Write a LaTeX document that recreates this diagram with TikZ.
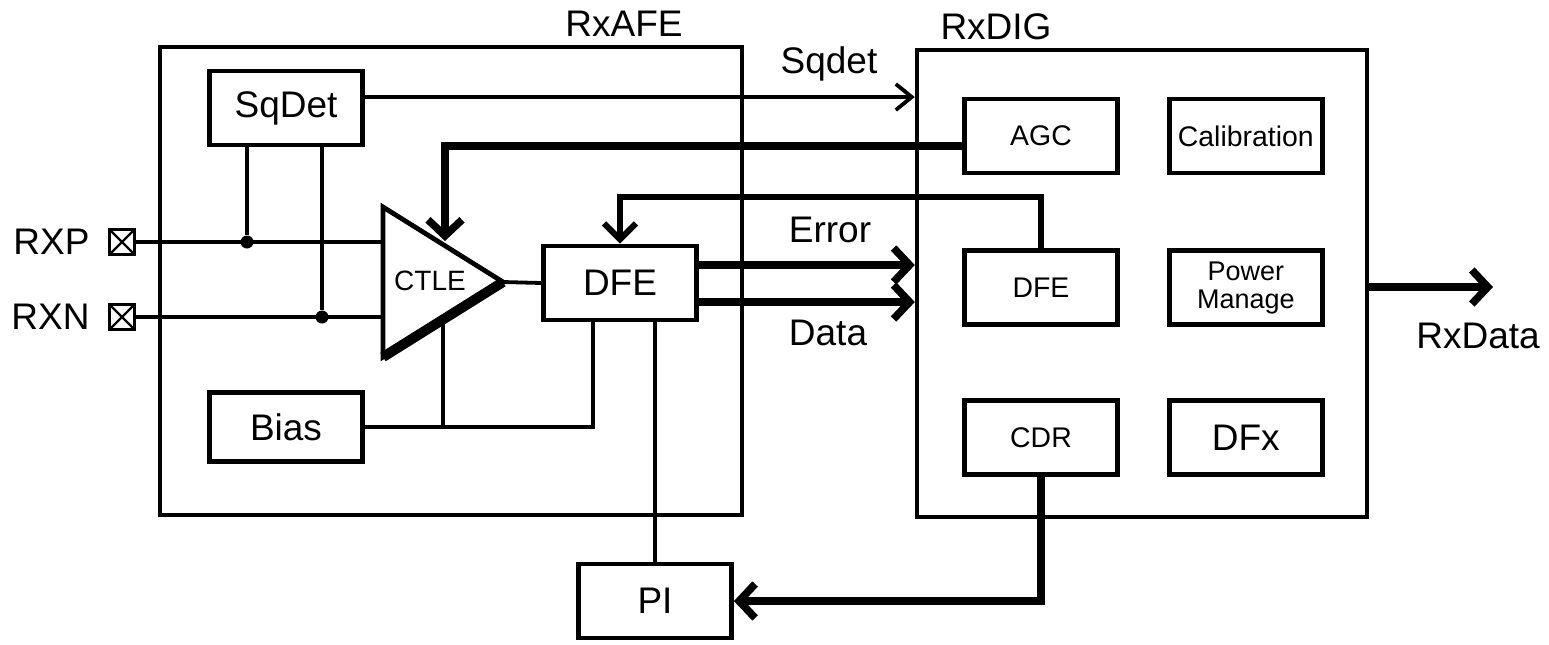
\documentclass[tikz,border=0pt]{standalone}
\usepackage{fontspec}
\setmainfont{Liberation Sans}
\usetikzlibrary{arrows.meta, positioning}

\begin{document}
\begin{tikzpicture}[x=0.5pt, y=-0.5pt,
  blk/.style={rectangle, draw, line width=2.4pt, inner sep=0pt, minimum width=76.5pt, minimum height=37pt, font=\fontsize{18.5}{20}\selectfont},
  sblk/.style={blk, font=\fontsize{14.2}{15}\selectfont, align=center},
  outer/.style={rectangle, draw, line width=2.2pt, inner sep=0pt},
  lbl/.style={font=\fontsize{18.5}{20}\selectfont, inner sep=0pt},
  pad/.style={rectangle, draw, line width=1.6pt, minimum size=12.5pt, inner sep=0pt,
    path picture={\draw[line width=1.1pt] (path picture bounding box.north west) -- (path picture bounding box.south east)
      (path picture bounding box.north east) -- (path picture bounding box.south west);}},
  wire/.style={line width=1.9pt},
  bus/.style={line width=3.8pt, arrows={-Straight Barb[length=8pt, width=17pt]}},
  jdot/.style={circle, fill, inner sep=0pt, minimum size=6.5pt}]

  \useasboundingbox (0,0) rectangle (1549,644);

  \node[outer, minimum width=291pt, minimum height=234pt] (afe) at (451,281) {};
  \node[outer, minimum width=225pt, minimum height=233.5pt] (dig) at (1142,283.5) {};
  \node[lbl] (afelbl) at (624,24) {RxAFE};
  \node[lbl] (diglbl) at (996,27) {RxDIG};

  \node[blk] (sqdet) at (286,108) {SqDet};
  \node[blk, minimum height=34.5pt] (bias) at (286,427) {Bias};
  \node[blk] (dfe) at (620,283) {DFE};
  \node[blk] (pi) at (655,601) {PI};

  \node[sblk] (agc) at (1041,136) {AGC};
  \node[sblk, right=23.5pt of agc] (calib) {Calibration};
  \node[sblk, below=36.5pt of agc] (dfed) {DFE};
  \node[sblk, right=23.5pt of dfed, font=\fontsize{13.5}{13.8}\selectfont] (pwr) {Power\\Manage};
  \node[sblk, below=35.5pt of dfed] (cdr) {CDR};
  \node[blk, right=23.5pt of cdr] (dfx) {DFx};

  \coordinate (ctlea) at (383,207);
  \coordinate (ctleb) at (383,357);
  \coordinate (ctlet) at (503,282);
  \coordinate (inp) at (383,242);
  \coordinate (inn) at (383,317);
  \coordinate (ctleg) at (445,241);
  \coordinate (ctlebias) at (443,320);
  \draw[line width=2.4pt, line join=miter] (ctlea) -- (ctlet) -- (ctleb) -- cycle;
  \draw[line width=5pt] (ctleb) -- (ctlet);
  \node[font=\fontsize{14}{14}\selectfont] (ctle) at (430,281) {CTLE};

  \node[pad] (rxp) at (122,242) {};
  \node[pad] (rxn) at (122,317) {};
  \node[lbl, left=9pt of rxp] (rxplbl) {RXP};
  \node[lbl, left=9pt of rxn] (rxnlbl) {RXN};
  \node[jdot] (jp) at (247,242) {};
  \node[jdot] (jn) at (322,317) {};

  \draw[wire] (rxp) -- (inp);
  \draw[wire] (rxn) -- (inn);
  \draw[wire] (sqdet.south -| jp) -- (jp);
  \draw[wire] (sqdet.south -| jn) -- (jn);
  \draw[wire] (ctlet) -- (dfe.west);
  \draw[wire] (bias.east) -| ([xshift=-13.5pt]dfe.south);
  \draw[wire] (bias.east -| ctlebias) -- (ctlebias);
  \draw[wire] (pi.north) -- (pi.north |- dfe.south);

  \draw[wire, arrows={-Straight Barb[length=8pt, width=13pt]}] ([yshift=5.5pt]sqdet.east) -- ([yshift=5.5pt]sqdet.east -| dig.west);
  \node[lbl] (sqlbl) at (829,64) {Sqdet};

  \draw[bus] ([yshift=-5pt]agc.west) -| (ctleg);
  \draw[line width=3pt, arrows={-Straight Barb[length=8pt, width=16pt]}] (dfed.north) |- (dfe.north |- 0,197) -- (dfe.north);

  \draw[bus] ([yshift=9pt]dfe.east) -- ([yshift=9pt]dfe.east -| dig.west);
  \draw[bus] ([yshift=-9.5pt]dfe.east) -- ([yshift=-9.5pt]dfe.east -| dig.west);
  \node[lbl] (errlbl) at (830,230) {Error};
  \node[lbl] (datalbl) at (828,333) {Data};

  \draw[bus] (cdr.south) |- (pi.east);

  \coordinate (out) at (1493,287);
  \draw[bus] (dig.east |- out) -- (out);
  \node[lbl] (rxdlbl) at (1478,336) {RxData};
\end{tikzpicture}
\end{document}
